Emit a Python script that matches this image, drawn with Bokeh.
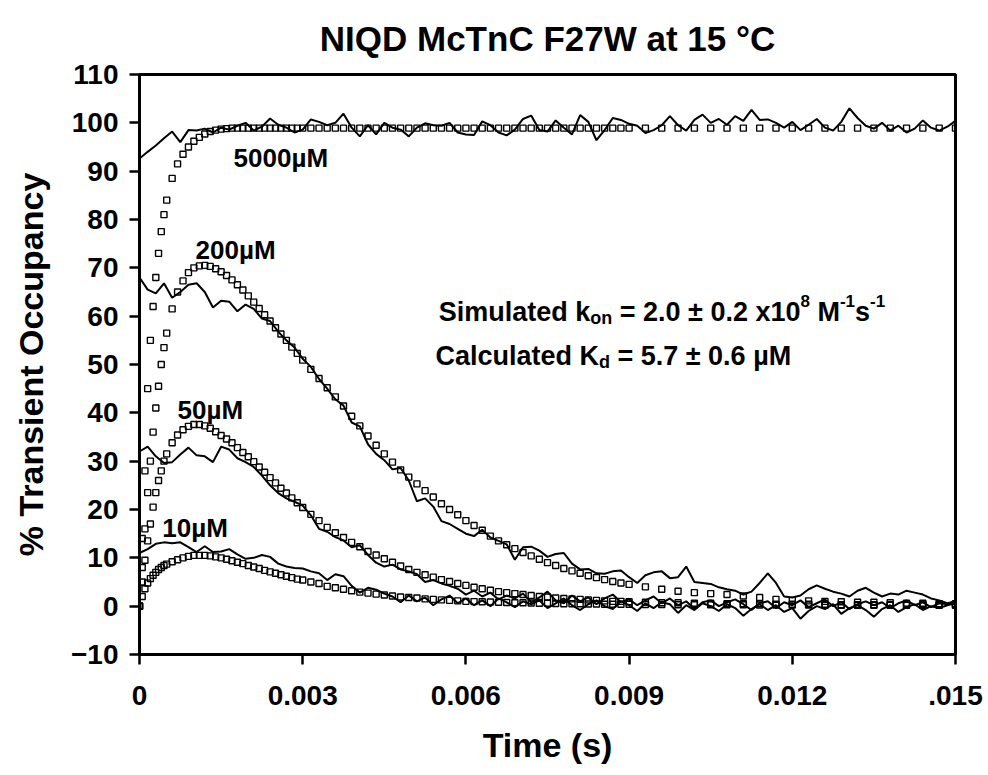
import numpy as np
from bokeh.plotting import figure
from bokeh.models import Label, FixedTicker, Range1d
from bokeh.embed import file_html
from bokeh.resources import INLINE

# ---------------- data ----------------
# experimental traces, sampled every 0.15 ms from 0 to 15 ms
t_trace_ms = np.arange(101) * 0.15

trace_5000 = [92.6, 94.0, 95.3, 96.8, 98.2, 96.0, 98.5, 98.4, 98.8, 98.0,
              99.0, 98.6, 99.4, 100.0, 98.4, 99.2, 100.9, 99.6, 99.0, 98.0,
              98.6, 100.7, 100.2, 99.5, 100.0, 101.9, 99.0, 97.2, 99.5, 97.6,
              100.0, 99.0, 98.6, 97.2, 99.0, 99.9, 99.5, 99.4, 100.0, 98.0,
              97.6, 97.5, 100.3, 99.5, 98.0, 97.4, 98.6, 100.8, 101.5, 98.5,
              98.2, 100.5, 99.0, 97.6, 101.6, 100.2, 96.4, 98.5, 101.0, 100.6,
              99.8, 99.4, 97.9, 98.5, 99.5, 101.4, 99.5, 98.4, 100.6, 101.7,
              100.0, 100.8, 99.6, 101.4, 100.4, 102.7, 100.6, 100.7, 100.0, 99.0,
              100.2, 98.5, 99.6, 100.8, 99.0, 98.4, 100.2, 103.0, 101.0, 99.4,
              98.8, 100.0, 98.4, 99.4, 98.0, 98.8, 100.5, 99.0, 98.4, 99.2,
              100.4]

trace_200 = [68.0, 65.5, 64.7, 66.8, 63.8, 65.0, 66.5, 66.8, 65.0, 61.8,
             63.2, 63.0, 61.0, 62.4, 61.5, 59.5, 59.0, 56.8, 55.0, 53.5,
             51.2, 49.5, 47.0, 45.0, 42.8, 41.5, 38.0, 37.2, 33.5, 31.5,
             30.2, 28.3, 28.6, 26.0, 21.7, 22.3, 20.6, 17.6, 17.0, 16.0,
             15.0, 14.5, 15.8, 14.2, 13.5, 12.8, 9.6, 12.2, 12.3, 11.5,
             10.2, 10.8, 11.0, 8.8, 7.6, 7.7, 6.8, 6.7, 7.2, 7.4,
             6.0, 4.8, 6.4, 7.0, 7.2, 5.8, 6.0, 8.2, 5.0, 4.8,
             4.6, 3.9, 3.5, 3.2, 2.4, 3.0, 4.8, 6.8, 4.8, 2.0,
             1.8, 2.2, 3.5, 4.3, 3.6, 3.0, 2.6, 2.0, 3.2, 3.8,
             2.8, 2.0, 2.6, 2.4, 3.2, 2.8, 2.4, 1.6, 1.2, 0.6,
             1.0]

trace_50 = [32.0, 33.0, 31.0, 29.6, 29.8, 31.4, 32.8, 31.2, 31.0, 29.8,
            33.0, 32.4, 30.6, 29.8, 28.8, 27.0, 25.0, 23.4, 22.3, 21.6,
            20.8, 18.8, 16.0, 15.4, 14.3, 13.6, 12.2, 12.6, 10.6, 9.0,
            8.2, 8.6, 7.6, 7.2, 6.6, 5.0, 5.4, 4.7, 4.2, 3.6,
            2.4, 3.2, 2.0, 2.8, 1.4, 2.2, 1.6, 2.6, 0.8, 1.8,
            3.0, 1.2, 0.6, 2.2, 1.0, 1.8, 0.4, 1.6, 2.4, 0.8,
            1.4, 0.2, 1.2, 2.0, 0.6, 1.6, 0.2, 1.0, -0.6, 0.8,
            1.2, 0.0, 0.8, 1.4, 0.4, -0.8, 0.6, 1.0, -0.4, 0.8,
            0.2, 1.2, -0.2, 0.6, 1.4, 0.0, 0.8, -0.6, 0.4, 1.0,
            0.2, 0.8, -0.4, 0.6, 1.2, 0.2, 0.8, -0.2, 0.6, 0.4,
            0.8]

trace_10 = [11.0, 11.8, 12.9, 13.2, 13.0, 13.2, 12.2, 11.2, 12.4, 11.2,
            11.3, 11.8, 10.7, 9.8, 10.0, 10.6, 10.2, 8.8, 8.2, 7.9,
            7.8, 7.2, 6.8, 5.4, 6.6, 6.2, 4.2, 2.8, 3.8, 3.4,
            2.6, 2.0, 0.8, 2.2, 1.0, 1.8, 0.2, 1.4, 2.2, 0.6,
            1.6, 0.2, 1.2, 0.0, 1.6, 0.8, -0.2, 1.0, 0.4, 1.2,
            -0.4, 0.6, 1.6, 0.2, -0.8, 0.4, 1.2, 0.0, -0.6, 1.0,
            0.2, -1.0, 0.6, -0.4, 0.8, 0.4, -1.4, 0.2, -0.8, 0.6,
            0.0, -1.0, 0.4, -0.4, -2.0, -0.6, 0.4, -0.8, 0.2, -1.2,
            -0.4, -2.6, -1.0, 0.0, -0.6, 0.4, -1.6, -0.4, 0.2, -0.8,
            -2.2, -0.6, 0.2, -1.2, -0.2, 0.4, -0.8, 0.0, -0.4, 0.2,
            0.6]

# simulated curves (open squares)
sim_t_ms = [0, 0.05, 0.1, 0.15, 0.2, 0.25, 0.3, 0.35, 0.4, 0.45, 0.5, 0.6, 0.7, 0.8, 0.9, 1.0,
            1.1, 1.2, 1.3, 1.4, 1.5, 1.6, 1.7, 1.8, 1.9, 2.0, 2.1, 2.2, 2.3, 2.4, 2.5, 2.6, 2.7, 2.8, 2.9, 3.0,
            3.15, 3.3, 3.45, 3.6, 3.75, 3.9, 4.05, 4.2, 4.35, 4.5, 4.65, 4.8, 4.95, 5.1, 5.25, 5.4, 5.55, 5.7, 5.85, 6.0,
            6.15, 6.3, 6.45, 6.6, 6.75, 6.9, 7.05, 7.2, 7.35, 7.5, 7.65, 7.8, 7.95, 8.1, 8.25, 8.4, 8.55, 8.7, 8.85, 9.0,
            9.3, 9.6, 9.9, 10.2, 10.5, 10.8, 11.1, 11.4, 11.7, 12.0, 12.3, 12.6, 12.9, 13.2, 13.5, 13.8, 14.1, 14.4, 14.7, 15.0]

sim_5000 = [0, 14, 28, 45, 55, 62, 68, 73, 77.5, 81, 84, 88.5, 91.5, 93.5, 95, 96.2,
            97.0, 97.7, 98.2, 98.5, 98.7, 98.8, 98.9, 98.9, 98.9, 98.9, 98.9, 98.9, 98.9, 98.9, 98.9, 98.9, 98.9, 98.9, 98.9, 98.9,
            98.9, 98.9, 98.9, 98.9, 98.9, 98.9, 98.9, 98.9, 98.9, 98.9, 98.9, 98.9, 98.9, 98.9, 98.9, 98.9, 98.9, 98.9, 98.9, 98.9,
            98.9, 98.9, 98.9, 98.9, 98.9, 98.9, 98.9, 98.9, 98.9, 98.9, 98.9, 98.9, 98.9, 98.9, 98.9, 98.9, 98.9, 98.9, 98.9, 98.9,
            98.9, 98.9, 98.9, 98.9, 98.9, 98.9, 98.9, 98.9, 98.9, 98.9, 98.9, 98.9, 98.9, 98.9, 98.9, 98.9, 98.9, 98.9, 98.9, 98.9]

sim_200 = [0, 8, 16, 23.5, 30, 36, 41, 45.5, 50, 53.5, 56.5, 61.5, 65, 67.3, 69, 70,
           70.4, 70.5, 70.3, 69.8, 69.2, 68.4, 67.5, 66.5, 65.4, 64.2, 62.9, 61.6, 60.3, 59.0, 57.6, 56.3, 55.0, 53.6, 52.3, 50.9,
           49.0, 47.1, 45.2, 43.3, 41.4, 39.3, 37.3, 35.2, 33.3, 31.5, 29.8, 28.2, 26.7, 25.3, 23.9, 22.6, 21.2, 20.0, 18.9, 17.7,
           16.7, 15.7, 14.5, 13.5, 12.7, 11.9, 11.1, 10.4, 9.7, 9.0, 8.4, 7.8, 7.3, 6.8, 6.3, 5.9, 5.5, 5.1, 4.8, 4.5,
           4.0, 3.5, 3.1, 2.8, 2.6, 2.4, 2.1, 1.8, 1.4, 1.2, 1.1, 1.0, 0.9, 0.8, 0.8, 0.7, 0.6, 0.6, 0.5, 0.5]

sim_50 = [0, 5, 9.5, 13.5, 17, 20.5, 23.5, 26, 28, 30, 31.5, 33.8, 35.4, 36.5, 37.2, 37.6,
          37.6, 37.3, 36.8, 36.1, 35.3, 34.6, 33.8, 32.8, 31.8, 30.9, 29.9, 28.8, 27.7, 26.6, 25.5, 24.4, 23.4, 22.4, 21.4, 20.4,
          19.0, 17.7, 16.3, 15.2, 14.2, 13.2, 12.3, 11.3, 10.6, 9.8, 9.1, 8.3, 7.6, 7.0, 6.5, 6.0, 5.5, 5.1, 4.7, 4.3,
          3.9, 3.6, 3.3, 3.0, 2.8, 2.6, 2.4, 2.2, 2.0, 1.9, 1.7, 1.6, 1.5, 1.4, 1.3, 1.2, 1.1, 1.0, 1.0, 0.9,
          0.8, 0.7, 0.7, 0.6, 0.6, 0.5, 0.5, 0.5, 0.4, 0.4, 0.4, 0.4, 0.3, 0.3, 0.3, 0.3, 0.3, 0.3, 0.3, 0.3]

sim_10 = [0, 2.0, 3.6, 4.8, 5.7, 6.4, 7.0, 7.6, 8.0, 8.4, 8.7, 9.2, 9.6, 10.0, 10.3, 10.5,
          10.5, 10.5, 10.4, 10.2, 10.0, 9.7, 9.4, 9.1, 8.8, 8.4, 8.1, 7.8, 7.4, 7.1, 6.8, 6.5, 6.2, 5.9, 5.6, 5.4,
          5.0, 4.7, 4.1, 3.8, 3.5, 3.2, 2.9, 2.7, 2.5, 2.3, 2.1, 1.9, 1.8, 1.7, 1.5, 1.4, 1.3, 1.2, 1.1, 1.0,
          0.95, 0.9, 0.85, 0.8, 0.75, 0.7, 0.7, 0.65, 0.6, 0.6, 0.55, 0.5, 0.5, 0.5, 0.45, 0.45, 0.4, 0.4, 0.4, 0.4,
          0.35, 0.35, 0.3, 0.3, 0.3, 0.3, 0.3, 0.25, 0.25, 0.25, 0.25, 0.2, 0.2, 0.2, 0.2, 0.2, 0.2, 0.2, 0.2, 0.2]

x_ticks = [0, 0.003, 0.006, 0.009, 0.012, 0.015]
x_tick_labels = ["0", "0.003", "0.006", "0.009", "0.012", ".015"]
y_ticks = [-10, 0, 10, 20, 30, 40, 50, 60, 70, 80, 90, 100, 110]

series_labels = ["5000\u00b5M", "200\u00b5M", "50\u00b5M", "10\u00b5M"]
title_text = "NIQD McTnC F27W at 15 \u00b0C"

# ---------------- figure ----------------
FONT = "Liberation Sans"

p = figure(width=988, height=775, output_backend="svg", toolbar_location=None,
           x_range=Range1d(0, 0.015), y_range=Range1d(-10, 110),
           min_border_left=139, min_border_right=33,
           min_border_top=74, min_border_bottom=121)
p.xgrid.visible = False
p.ygrid.visible = False
p.background_fill_color = "white"
p.border_fill_color = "white"
p.outline_line_color = "black"
p.outline_line_width = 3

p.title.text = title_text
p.title.align = "center"
p.title.vertical_align = "top"
p.title.text_font = FONT
p.title.text_font_size = "35px"
p.title.text_font_style = "bold"
p.title.text_color = "black"
p.title.standoff = 30

p.xaxis.ticker = FixedTicker(ticks=x_ticks)
p.xaxis.major_label_overrides = {t: lab for t, lab in zip(x_ticks, x_tick_labels)}
p.yaxis.ticker = FixedTicker(ticks=y_ticks)
p.xaxis.axis_label = "Time (s)"
p.yaxis.axis_label = "% Transient Occupancy"

for ax in (p.xaxis[0], p.yaxis[0]):
    ax.axis_line_width = 3
    ax.axis_line_color = "black"
    ax.major_tick_line_width = 2.5
    ax.major_tick_line_color = "black"
    ax.major_tick_out = 10
    ax.major_tick_in = 0
    ax.minor_tick_line_color = None
    ax.major_label_text_font = FONT
    ax.major_label_text_font_size = "28px"
    ax.major_label_text_font_style = "bold"
    ax.major_label_text_color = "black"
    ax.axis_label_text_font = FONT
    ax.axis_label_text_font_size = "34px"
    ax.axis_label_text_font_style = "bold"
    ax.axis_label_text_color = "black"

p.xaxis.major_label_standoff = 21
p.xaxis.axis_label_standoff = 18
p.yaxis.major_label_standoff = 11
p.yaxis.axis_label_standoff = 18

t_trace = t_trace_ms / 1000.0
t_sim = np.array(sim_t_ms) / 1000.0

for tr in (trace_5000, trace_200, trace_50, trace_10):
    p.line(t_trace, tr, line_color="black", line_width=2)

for sm in (sim_5000, sim_200, sim_50, sim_10):
    p.scatter(t_sim, sm, marker="square", size=6, fill_color=None,
              line_color="black", line_width=1.4)

# series labels (data position = left end / baseline)
label_pos = [(0.00173, 92.7), (0.00103, 73.7), (0.00070, 40.6), (0.00042, 16.2)]
for txt, (lx, ly) in zip(series_labels, label_pos):
    p.add_layout(Label(x=lx, y=ly, text=txt, text_font=FONT, text_font_size="26px",
                       text_font_style="bold", text_color="black",
                       text_baseline="alphabetic", text_align="left"))

# rich text helper with sub/superscripts (Arial/Liberation bold advance widths)
W = {' ': 278, '%': 889, '(': 333, ')': 333, '-': 333, '.': 278, '=': 584,
     '\u00b1': 549, '\u00b5': 576, 'x': 556, 'C': 722, 'K': 722, 'M': 833, 'S': 667,
     'a': 556, 'c': 556, 'd': 611, 'e': 556, 'i': 278, 'k': 556, 'l': 278, 'm': 889,
     'n': 611, 'o': 611, 's': 556, 't': 333, 'u': 611}


def tw(s, size):
    return sum(W.get(c, 556) for c in s) / 1000.0 * size


def rich(x, y, segs):
    off = 0.0
    for txt, size, dy in segs:
        lead = len(txt) - len(txt.lstrip(' '))
        off += tw(' ' * lead, size)
        core = txt.strip(' ')
        p.add_layout(Label(x=x, y=y, x_offset=off, y_offset=dy, text=core,
                           text_font=FONT, text_font_size=f"{size}px",
                           text_font_style="bold", text_color="black",
                           text_baseline="alphabetic", text_align="left"))
        off += tw(core, size)
        trail = len(txt) - len(txt.rstrip(' '))
        off += tw(' ' * trail, size)


rich(0.0055, 60.8, [("Simulated k", 27, 0), ("on", 18, -6),
                    (" = 2.0 \u00b1 0.2 x10", 27, 0), ("8", 17, 11),
                    (" M", 27, 0), ("-1", 17, 11), ("s", 27, 0), ("-1", 17, 11)])
rich(0.00544, 51.7, [("Calculated K", 27, 0), ("d", 18, -6),
                     (" = 5.7 \u00b1 0.6 \u00b5M", 27, 0)])

open("out.html", "w").write(file_html(p, INLINE))
